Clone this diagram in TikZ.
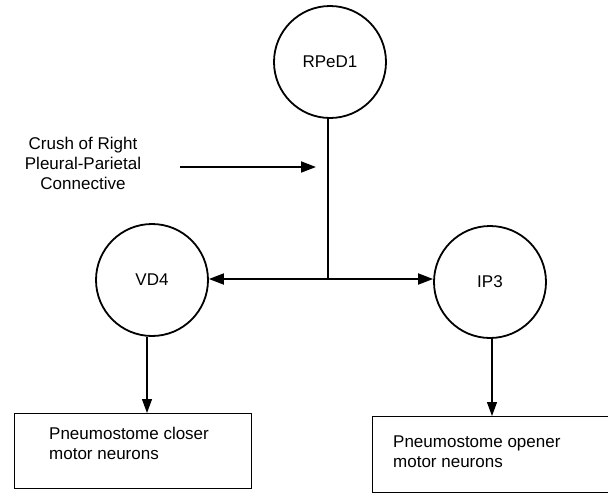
\documentclass[tikz,border=0pt]{standalone}
\usepackage{fontspec}
\setmainfont{Liberation Sans}
\usetikzlibrary{arrows.meta}
\begin{document}
\begin{tikzpicture}[x=1pt,y=-1pt,
  every node/.style={font=\fontsize{17}{20}\selectfont},
  cell/.style={draw, circle, line width=1.8pt, minimum size=112pt, inner sep=0pt},
  mbox/.style={draw, rectangle, line width=1.3pt, anchor=north west, inner sep=0pt},
  lbl/.style={anchor=north west, align=left, inner sep=0pt},
  thick link/.style={line width=1.8pt},
  thin arrow/.style={line width=1.1pt, -{Triangle[length=14pt,width=10pt]}},
  both arrow/.style={line width=1.8pt, {Triangle[length=15pt,width=11pt]}-{Triangle[length=15pt,width=11pt]}},
  crush arrow/.style={line width=1.8pt, -{Triangle[length=15pt,width=11pt]}}
]
\useasboundingbox (0,0) rectangle (608,496);

% cells
\node[cell] (rped1) at (330,62) {RPeD1};
\node[cell] (vd4) at (152,280) {VD4};
\node[cell] (ip3) at (490,282) {IP3};

% motor neuron boxes
\node[mbox, minimum width=237pt, minimum height=75pt] (boxL) at (14,413) {};
\node[mbox, minimum width=236pt, minimum height=76pt] (boxR) at (372,416) {};
\node[lbl] (txtL) at ([xshift=35pt,yshift=-14pt]boxL.north west) {Pneumostome closer\\motor neurons};
\node[lbl] (txtR) at ([xshift=21pt,yshift=-20pt]boxR.north west) {Pneumostome opener\\motor neurons};

% junction
\coordinate (junc) at (328,279);
\draw[thick link] (rped1.south -| junc) -- (junc);
\draw[both arrow] (vd4.east |- junc) -- (ip3.west |- junc);

% crush
\node[align=center, inner sep=0pt] (crush) at (83,163) {Crush of Right\\Pleural-Parietal\\Connective};
\coordinate (crushS) at (180,167);
\coordinate (crushE) at (316,167);
\draw[crush arrow] (crushS) -- (crushE);

% outputs
\draw[thin arrow] ([xshift=-5pt]vd4.south) -- ([xshift=-5pt]vd4.south |- boxL.north);
\draw[thin arrow] ([xshift=2pt]ip3.south) -- ([xshift=2pt]ip3.south |- boxR.north);
\end{tikzpicture}
\end{document}
